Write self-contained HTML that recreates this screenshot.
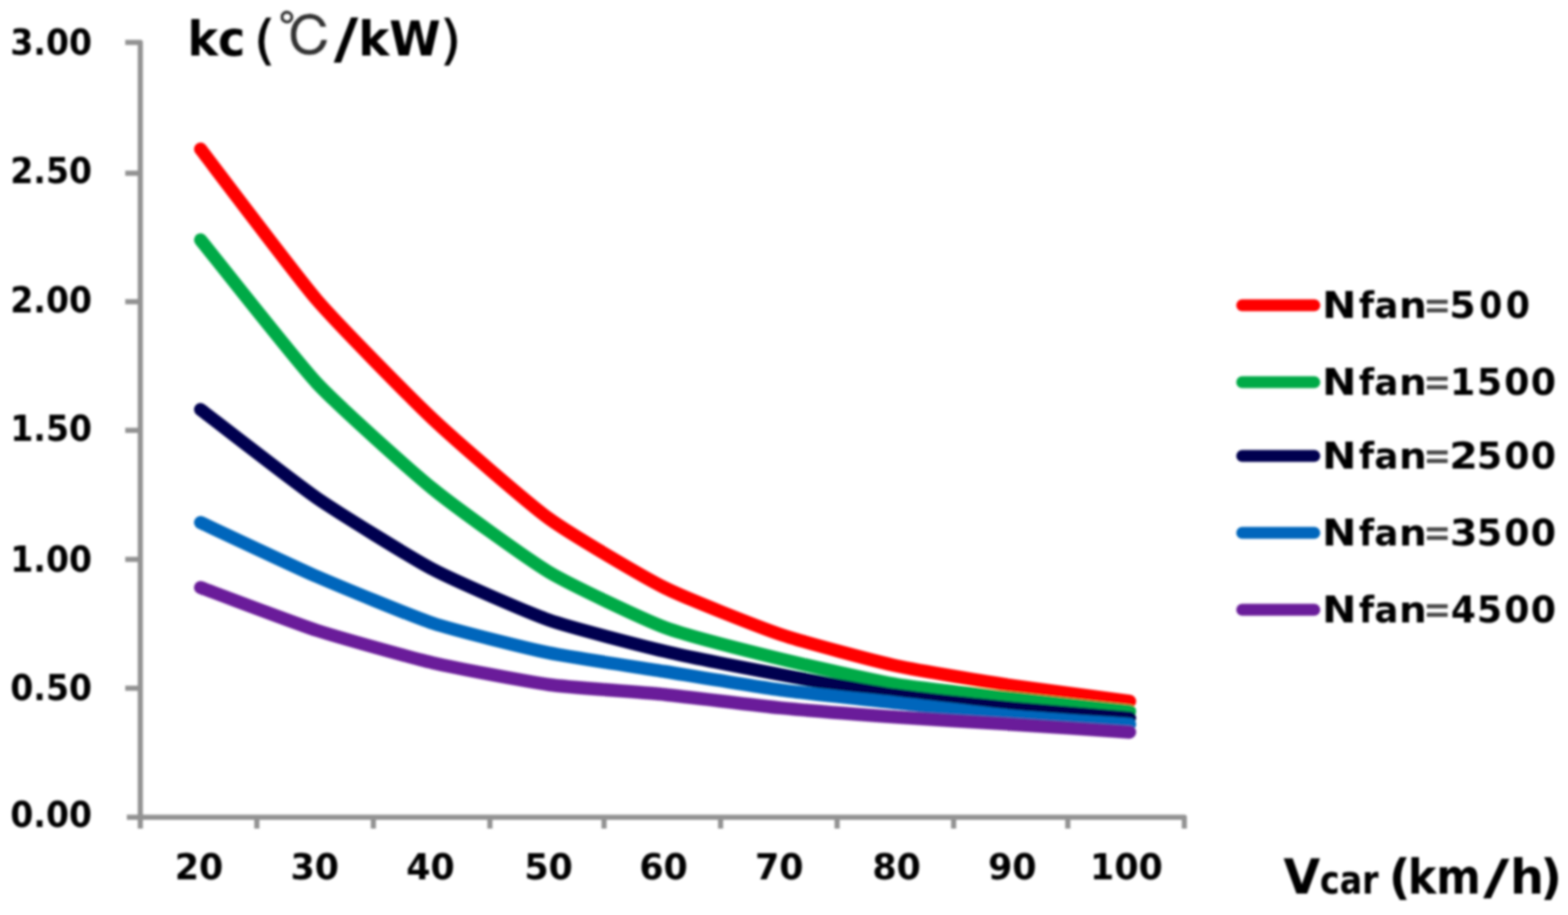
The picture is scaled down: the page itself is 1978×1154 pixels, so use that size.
<!DOCTYPE html>
<html><head><meta charset="utf-8"><title>kc chart</title>
<style>
html,body{margin:0;padding:0;background:#fff;width:1978px;height:1154px;overflow:hidden}
svg{display:block}
.t{font-family:"DejaVu Sans","Liberation Sans",sans-serif;font-weight:bold;fill:#050505}
</style></head><body>
<svg width="1978" height="1154" viewBox="0 0 1978 1154">
<defs><filter id="soft" x="-5%" y="-5%" width="110%" height="110%"><feGaussianBlur stdDeviation="1.5"/></filter></defs>
<rect width="1978" height="1154" fill="#fff"/>
<g filter="url(#soft)">
<g stroke="#929292" stroke-width="6.5" fill="none" stroke-linejoin="round" stroke-linecap="butt">
<path d="M158 53.5 H177 V1045"/>
<path d="M160 1030.7 H1494 V1045"/>
<path d="M158 218.5 H177 M158 380.4 H177 M158 542.8 H177 M158 705.4 H177 M158 868.1 H177"/>
<path d="M324 1030 V1045 M471 1030 V1045 M618 1030 V1045 M762 1030 V1045 M909 1030 V1045 M1056 1030 V1045 M1203 1030 V1045 M1347 1030 V1045"/>
</g>
<g class="t" font-size="44">
<text x="13" y="68.5" textLength="103" lengthAdjust="spacingAndGlyphs">3.00</text>
<text x="13" y="231" textLength="103" lengthAdjust="spacingAndGlyphs">2.50</text>
<text x="13" y="393.5" textLength="103" lengthAdjust="spacingAndGlyphs">2.00</text>
<text x="13" y="556" textLength="103" lengthAdjust="spacingAndGlyphs">1.50</text>
<text x="13" y="720.5" textLength="103" lengthAdjust="spacingAndGlyphs">1.00</text>
<text x="13" y="882.5" textLength="103" lengthAdjust="spacingAndGlyphs">0.50</text>
<text x="13" y="1043" textLength="103" lengthAdjust="spacingAndGlyphs">0.00</text>
</g>
<g class="t" font-size="44" text-anchor="middle">
<text x="251" y="1108.5">20</text>
<text x="397" y="1108.5">30</text>
<text x="543" y="1108.5">40</text>
<text x="692" y="1108.5">50</text>
<text x="837" y="1108.5">60</text>
<text x="983" y="1108.5">70</text>
<text x="1131" y="1108.5">80</text>
<text x="1277" y="1108.5">90</text>
<text x="1421" y="1108.5">100</text>
</g>
<g class="t" font-size="60">
<text x="236.5" y="70" textLength="73" lengthAdjust="spacingAndGlyphs">kc</text>
<text x="321" y="73" font-size="65" font-weight="normal" stroke="#050505" stroke-width="1.3">(</text>
<text x="350.5" y="71.3" font-family="'Liberation Sans', IPAGothic, 'Noto Sans CJK JP', sans-serif" font-weight="normal" font-size="69" fill="#333" stroke="#333" stroke-width="0.6">℃</text>
<text x="421" y="73" font-size="70" textLength="31" lengthAdjust="spacingAndGlyphs">/</text>
<text x="452" y="70" textLength="104" lengthAdjust="spacingAndGlyphs">kW</text>
<text x="556" y="73" font-size="65" font-weight="normal" stroke="#050505" stroke-width="1.3">)</text>
</g>
<text class="t" x="1619" y="1127" font-size="60">V<tspan x="1665" font-size="50" textLength="74" lengthAdjust="spacingAndGlyphs">car</tspan><tspan x="1752">(</tspan><tspan x="1776" textLength="92" lengthAdjust="spacingAndGlyphs">km</tspan><tspan x="1871" textLength="33" lengthAdjust="spacingAndGlyphs">/</tspan><tspan x="1905">h</tspan><tspan x="1943">)</tspan></text>
<g fill="none" stroke-width="16.5" stroke-linecap="round" stroke-linejoin="round">
<path stroke="#FF0000" d="M253.0 188.0 C266.3 205.3 372.9 347.0 399.5 378.0 C426.1 409.0 519.4 503.4 546.0 528.5 C572.6 553.6 665.9 634.6 692.5 654.0 C719.1 673.4 812.4 728.2 839.0 741.5 C865.6 754.8 958.9 791.5 985.5 800.5 C1012.1 809.5 1105.4 834.2 1132.0 840.0 C1158.6 845.8 1251.9 860.8 1278.5 864.8 C1305.1 868.8 1411.7 882.7 1425.0 884.5"/>
<path stroke="#00AA46" d="M253.0 302.5 C266.3 318.9 372.9 454.5 399.5 483.0 C426.1 511.5 519.4 594.8 546.0 616.5 C572.6 638.2 665.9 705.6 692.5 721.5 C719.1 737.4 812.4 781.5 839.0 791.5 C865.6 801.5 958.9 824.8 985.5 831.3 C1012.1 837.8 1105.4 859.0 1132.0 863.5 C1158.6 868.0 1251.9 877.8 1278.5 880.8 C1305.1 883.8 1411.7 895.5 1425.0 897.0"/>
<path stroke="#00044F" d="M253.0 516.5 C266.3 526.6 372.9 609.7 399.5 628.0 C426.1 646.3 519.4 704.0 546.0 718.0 C572.6 732.0 665.9 772.6 692.5 782.0 C719.1 791.4 812.4 815.2 839.0 821.5 C865.6 827.8 958.9 846.0 985.5 851.0 C1012.1 856.0 1105.4 873.2 1132.0 877.0 C1158.6 880.8 1251.9 890.6 1278.5 893.2 C1305.1 895.8 1411.7 904.3 1425.0 905.4"/>
<path stroke="#0066BC" d="M253.0 659.0 C266.3 665.2 372.9 715.5 399.5 727.0 C426.1 738.5 519.4 777.2 546.0 786.0 C572.6 794.8 665.9 817.9 692.5 823.4 C719.1 828.9 812.4 842.7 839.0 847.0 C865.6 851.3 958.9 866.8 985.5 870.4 C1012.1 874.0 1105.4 883.6 1132.0 886.6 C1158.6 889.6 1251.9 900.9 1278.5 903.4 C1305.1 905.9 1411.7 912.8 1425.0 913.7"/>
<path stroke="#6A1C9A" d="M253.0 741.0 C266.3 745.9 372.9 786.4 399.5 795.0 C426.1 803.6 519.4 829.8 546.0 836.0 C572.6 842.2 665.9 859.9 692.5 863.5 C719.1 867.1 812.4 873.3 839.0 876.0 C865.6 878.7 958.9 890.3 985.5 892.9 C1012.1 895.5 1105.4 902.7 1132.0 904.6 C1158.6 906.5 1251.9 912.0 1278.5 913.7 C1305.1 915.4 1411.7 922.5 1425.0 923.4"/>
</g>
<g fill="none" stroke-width="15" stroke-linecap="round">
<path stroke="#FF0000" d="M1567 385 H1658"/>
<path stroke="#00AA46" d="M1567 482 H1658"/>
<path stroke="#00044F" d="M1567 575 H1658"/>
<path stroke="#0066BC" d="M1567 672 H1658"/>
<path stroke="#6A1C9A" d="M1567 769 H1658"/>
</g>
<g class="t" font-size="47">
<text y="401"><tspan x="1667.8" textLength="43.4" lengthAdjust="spacingAndGlyphs">N</tspan><tspan x="1714.3" textLength="19.2" lengthAdjust="spacingAndGlyphs">f</tspan><tspan x="1733.7" textLength="30.3" lengthAdjust="spacingAndGlyphs">a</tspan><tspan x="1764.8" textLength="35.1" lengthAdjust="spacingAndGlyphs">n</tspan><tspan x="1795.5" textLength="35.2" lengthAdjust="spacingAndGlyphs" fill="#4a4a4a">=</tspan><tspan x="1828.2" textLength="33.3" lengthAdjust="spacingAndGlyphs">5</tspan><tspan x="1866.3" textLength="28.8" lengthAdjust="spacingAndGlyphs">0</tspan><tspan x="1899.6" textLength="30.5" lengthAdjust="spacingAndGlyphs">0</tspan></text>
<text y="498"><tspan x="1667.8" textLength="43.4" lengthAdjust="spacingAndGlyphs">N</tspan><tspan x="1714.3" textLength="19.2" lengthAdjust="spacingAndGlyphs">f</tspan><tspan x="1733.7" textLength="30.3" lengthAdjust="spacingAndGlyphs">a</tspan><tspan x="1764.8" textLength="35.1" lengthAdjust="spacingAndGlyphs">n</tspan><tspan x="1795.5" textLength="35.2" lengthAdjust="spacingAndGlyphs" fill="#4a4a4a">=</tspan><tspan x="1829.0" textLength="32.1" lengthAdjust="spacingAndGlyphs">1</tspan><tspan x="1863.0" textLength="31.9" lengthAdjust="spacingAndGlyphs">5</tspan><tspan x="1897.6" textLength="31.9" lengthAdjust="spacingAndGlyphs">0</tspan><tspan x="1930.9" textLength="31.9" lengthAdjust="spacingAndGlyphs">0</tspan></text>
<text y="591"><tspan x="1667.8" textLength="43.4" lengthAdjust="spacingAndGlyphs">N</tspan><tspan x="1714.3" textLength="19.2" lengthAdjust="spacingAndGlyphs">f</tspan><tspan x="1733.7" textLength="30.3" lengthAdjust="spacingAndGlyphs">a</tspan><tspan x="1764.8" textLength="35.1" lengthAdjust="spacingAndGlyphs">n</tspan><tspan x="1795.5" textLength="35.2" lengthAdjust="spacingAndGlyphs" fill="#4a4a4a">=</tspan><tspan x="1828.2" textLength="36.1" lengthAdjust="spacingAndGlyphs">2</tspan><tspan x="1863.0" textLength="31.9" lengthAdjust="spacingAndGlyphs">5</tspan><tspan x="1897.6" textLength="31.9" lengthAdjust="spacingAndGlyphs">0</tspan><tspan x="1930.9" textLength="31.9" lengthAdjust="spacingAndGlyphs">0</tspan></text>
<text y="688"><tspan x="1667.8" textLength="43.4" lengthAdjust="spacingAndGlyphs">N</tspan><tspan x="1714.3" textLength="19.2" lengthAdjust="spacingAndGlyphs">f</tspan><tspan x="1733.7" textLength="30.3" lengthAdjust="spacingAndGlyphs">a</tspan><tspan x="1764.8" textLength="35.1" lengthAdjust="spacingAndGlyphs">n</tspan><tspan x="1795.5" textLength="35.2" lengthAdjust="spacingAndGlyphs" fill="#4a4a4a">=</tspan><tspan x="1829.0" textLength="34.8" lengthAdjust="spacingAndGlyphs">3</tspan><tspan x="1863.0" textLength="31.9" lengthAdjust="spacingAndGlyphs">5</tspan><tspan x="1897.6" textLength="31.9" lengthAdjust="spacingAndGlyphs">0</tspan><tspan x="1930.9" textLength="31.9" lengthAdjust="spacingAndGlyphs">0</tspan></text>
<text y="785"><tspan x="1667.8" textLength="43.4" lengthAdjust="spacingAndGlyphs">N</tspan><tspan x="1714.3" textLength="19.2" lengthAdjust="spacingAndGlyphs">f</tspan><tspan x="1733.7" textLength="30.3" lengthAdjust="spacingAndGlyphs">a</tspan><tspan x="1764.8" textLength="35.1" lengthAdjust="spacingAndGlyphs">n</tspan><tspan x="1795.5" textLength="35.2" lengthAdjust="spacingAndGlyphs" fill="#4a4a4a">=</tspan><tspan x="1830.3" textLength="31.6" lengthAdjust="spacingAndGlyphs">4</tspan><tspan x="1863.0" textLength="31.9" lengthAdjust="spacingAndGlyphs">5</tspan><tspan x="1897.6" textLength="31.9" lengthAdjust="spacingAndGlyphs">0</tspan><tspan x="1930.9" textLength="31.9" lengthAdjust="spacingAndGlyphs">0</tspan></text>
</g>
</g>
</svg>
</body></html>
